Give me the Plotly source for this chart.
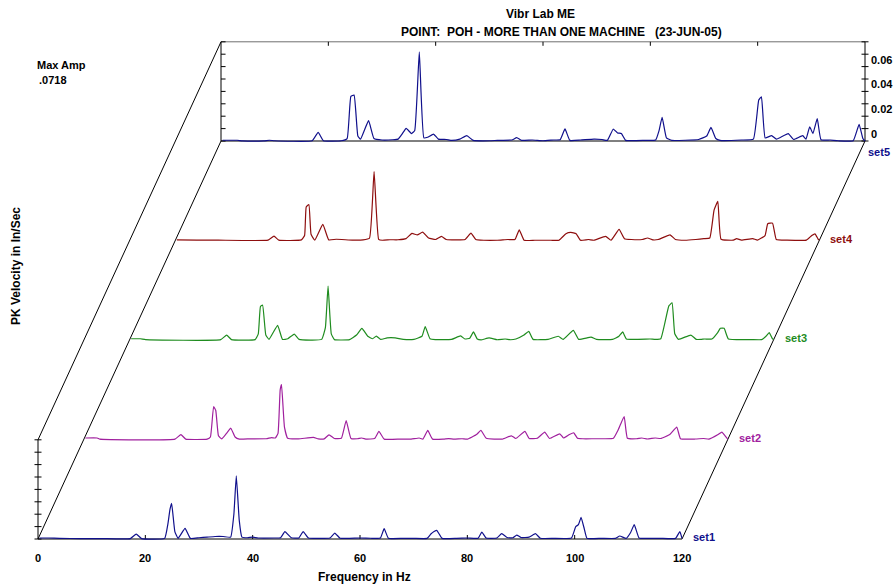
import plotly.graph_objects as go

# ---------------- data ----------------
set_names = ["set1", "set2", "set3", "set4", "set5"]
set_colors = ["#10108c", "#a0209e", "#1f8c1f", "#8e0e0e", "#10108c"]

freq1 = [0.3, 2, 4, 8, 12, 17.2, 18.3, 19.3, 23.6, 24.2, 24.6, 24.9, 25.5, 26.1, 27.4, 28.4, 30, 31.5, 33, 34.5,
         35.9, 36.5, 36.95, 37.5, 38, 39, 40, 41, 44, 45.2, 46, 47.2, 48.6, 49.4, 50.4, 52, 54.4, 55.3, 56.3, 58,
         60, 62, 63.8, 64.5, 65.3, 68, 70, 72.5, 73.2, 73.8, 74.3, 75.3, 78, 80, 82, 82.7, 83.5, 85.5, 86.4, 87.4,
         88.5, 89.2, 90, 91.5, 92.7, 93.6, 96, 99.4, 100.2, 100.7, 101.2, 101.8, 102.3, 105, 107.6, 108.4, 109.6,
         110.4, 111.1, 112, 114, 116, 118.8, 119.6, 120]
amp1 = [0.0008, 0.0008, 0.0005, 0.0003, 0.0003, 0.0003, 0.004, 0.0003, 0.0005, 0.012, 0.024, 0.0288, 0.006, 0.0005,
        0.0086, 0.0005, 0.001, 0.0015, 0.002, 0.002, 0.0015, 0.02, 0.051, 0.015, 0.0015, 0.001, 0.0015, 0.0008,
        0.0008, 0.001, 0.0059, 0.001, 0.0008, 0.006, 0.0008, 0.0005, 0.0008, 0.0048, 0.0006, 0.0005, 0.0008, 0.0006,
        0.0008, 0.0083, 0.0006, 0.0005, 0.0005, 0.0005, 0.004, 0.006, 0.007, 0.0005, 0.0005, 0.0008, 0.0006, 0.0056,
        0.0008, 0.0008, 0.0043, 0.0012, 0.001, 0.0032, 0.0012, 0.0015, 0.0043, 0.0006, 0.0005, 0.0008, 0.010, 0.0115,
        0.0175, 0.008, 0.0005, 0.0005, 0.0005, 0.0024, 0.0005, 0.005, 0.0116, 0.0008, 0.0005, 0.0005, 0.0005, 0.006,
        0.0005]

freq2 = [0.3, 2.5, 3, 17, 18.1, 19, 23, 23.6, 24.2, 24.6, 25.1, 25.7, 26.6, 27.4, 28.2, 29, 31, 34, 35, 35.7, 36.2,
         36.6, 36.85, 37.4, 38, 40, 42.8, 43.7, 44.8, 45.7, 46.7, 48, 48.9, 49.8, 51, 51.8, 52.7, 54.2, 55.0, 56, 59,
         61, 62.5, 63.2, 64.1, 65, 67, 68, 69, 70.5, 71.5, 73.2, 74.0, 75, 78, 79.7, 80.5, 82.2, 83, 84.5, 85.9, 86.8,
         88.7, 89.4, 90.5, 91.3, 92, 93, 95, 97, 98.7, 99.5, 100.0, 100.7, 101.3, 103, 104, 105, 106.5, 107.5, 109.2,
         110.5, 111.2, 114, 115.5, 116.5, 118.2, 118.9, 119.5, 120]
amp2 = [0.0012, 0.0012, 0.0003, 0.0003, 0.004, 0.0003, 0.0003, 0.002, 0.0266, 0.0234, 0.003, 0.0005, 0.005, 0.0091,
        0.002, 0.0003, 0.0005, 0.0006, 0.0015, 0.0012, 0.005, 0.040, 0.0443, 0.01, 0.001, 0.0005, 0.0017, 0.0005,
        0.0005, 0.0038, 0.0008, 0.001, 0.0153, 0.0008, 0.0006, 0.0012, 0.0003, 0.0008, 0.0065, 0.0003, 0.0003,
        0.0003, 0.0012, 0.0003, 0.0073, 0.0003, 0.0003, 0.0007, 0.0003, 0.0006, 0.0003, 0.004, 0.0073, 0.001,
        0.0003, 0.003, 0.0008, 0.0065, 0.0008, 0.001, 0.006, 0.0008, 0.0046, 0.0012, 0.004, 0.0054, 0.001, 0.0006,
        0.0006, 0.0006, 0.001, 0.007, 0.012, 0.0185, 0.001, 0.0006, 0.0012, 0.0004, 0.0012, 0.0008, 0.004, 0.01,
        0.0006, 0.0004, 0.0008, 0.0003, 0.004, 0.006, 0.003, 0.0003]

freq3 = [0.3, 2, 3, 17, 18.1, 19, 23.4, 24, 24.4, 24.8, 25.4, 26, 27.6, 28.5, 29.5, 30.7, 31.6, 35.8, 36.5, 37.0,
         37.6, 38.2, 41, 42.3, 43.3, 44.4, 45.3, 46.0, 46.8, 48, 49.5, 51, 53, 54.5, 55.1, 56, 57, 60, 61.7, 62.5,
         63.4, 64.1, 64.8, 65.5, 67, 68.5, 70, 71, 72, 73.5, 74.4, 75.2, 78, 79.9, 80.8, 82.7, 83.7, 86, 87, 90, 91.2,
         91.9, 92.6, 97, 98, 99, 100.5, 101.1, 101.6, 102.3, 104.6, 105.6, 106.5, 107.2, 108.5, 109.6, 110.1, 110.8,
         111.6, 116, 117.8, 118.6, 119.2, 119.8, 120]
amp3 = [0.001, 0.001, 0.0003, 0.0003, 0.004, 0.0003, 0.0003, 0.005, 0.027, 0.0282, 0.004, 0.0005, 0.0118, 0.0005,
        0.001, 0.0048, 0.0005, 0.0005, 0.01, 0.0435, 0.005, 0.0003, 0.0003, 0.004, 0.0094, 0.003, 0.001, 0.0032,
        0.0005, 0.0017, 0.0017, 0.0005, 0.0005, 0.003, 0.0108, 0.001, 0.0003, 0.0005, 0.0033, 0.0008, 0.0015, 0.0065,
        0.0008, 0.0001, 0.0017, 0.0002, 0.0008, 0.0002, 0.0008, 0.004, 0.007, 0.0005, 0.0005, 0.003, 0.0005, 0.0078,
        0.0005, 0.0023, 0.0005, 0.0005, 0.003, 0.0065, 0.0008, 0.0008, 0.0005, 0.001, 0.0275, 0.030, 0.005, 0.0005,
        0.004, 0.0005, 0.0005, 0.0008, 0.0008, 0.006, 0.0094, 0.0094, 0.0008, 0.0003, 0.0003, 0.003, 0.006, 0.001,
        0.0005]

freq4 = [0.3, 4, 8, 17.3, 18.4, 19.3, 23.5, 24.1, 24.4, 24.9, 25.3, 26, 27.5, 28.6, 30, 33, 35, 36.2, 37.05, 37.9,
         38.6, 40, 41.5, 43, 44.1, 45.1, 46.1, 47.2, 48.5, 49.6, 50.5, 54, 55.1, 56, 57.5, 60, 62, 63.3, 64.1, 65, 67,
         70, 71.5, 72.8, 73.7, 74.7, 75.5, 77, 78, 80.2, 81.2, 82.7, 83.7, 85, 87, 88, 89, 90, 92.2, 93.2, 95, 97,
         98.5, 99.6, 100.4, 101.1, 101.7, 104, 104.6, 105.5, 107.6, 108.5, 109.9, 110.4, 111.3, 112, 114, 117.6,
         118.6, 119.2, 119.8, 120]
amp4 = [0.0005, 0.0003, 0.0003, 0.0003, 0.0035, 0.0003, 0.0005, 0.004, 0.027, 0.029, 0.005, 0.0003, 0.013, 0.0005,
        0.001, 0.0003, 0.0005, 0.002, 0.0556, 0.001, 0.0002, 0.0006, 0.0006, 0.0015, 0.0057, 0.0045, 0.0067, 0.002,
        0.0008, 0.0033, 0.0008, 0.0008, 0.006, 0.0008, 0.0002, 0.0002, 0.0008, 0.0008, 0.0086, 0.0002, 0.0002,
        0.0002, 0.0002, 0.0055, 0.0065, 0.0055, 0.0002, 0.0008, 0.0002, 0.0033, 0.0002, 0.0089, 0.0015, 0.0008,
        0.0008, 0.002, 0.0005, 0.0008, 0.0046, 0.0008, 0.0002, 0.0008, 0.0015, 0.002, 0.0245, 0.0315, 0.001, 0.0003,
        0.0015, 0.0003, 0.0015, 0.0003, 0.004, 0.0135, 0.014, 0.0008, 0.0003, 0.0003, 0.004, 0.0054, 0.001, 0.0003]

freq5 = [0.3, 3, 4, 8, 9, 10, 17, 18.1, 19.1, 22.4, 23.5, 24.2, 24.8, 25.5, 26, 27.5, 28.5, 30, 32, 33, 33.8, 34.5,
         35.5, 36.1, 36.95, 37.8, 38.5, 39.6, 40.5, 42, 43, 44.5, 45.8, 47, 50, 51.5, 54.2, 55.1, 56, 58, 60, 62, 63.2,
         64.1, 65, 67, 69.5, 71, 72, 73.1, 73.9, 74.6, 75.4, 79, 81, 81.6, 82.2, 83, 84, 89, 90.5, 91.3, 92.2, 93, 97,
         99.2, 100.2, 100.7, 101.4, 102.6, 103.5, 105.7, 106.7, 108.4, 109.0, 109.7, 110.3, 111.1, 111.8, 113.5, 115,
         117.8, 118.9, 119.6, 120]
amp5 = [0.0006, 0.0006, 0.0001, 0.0001, 0.0006, 0.0002, 0.0002, 0.007, 0.0002, 0.0002, 0.002, 0.036, 0.037, 0.004,
        0.0015, 0.0164, 0.002, 0.0008, 0.001, 0.0015, 0.006, 0.0102, 0.006, 0.0085, 0.0718, 0.0025, 0.003, 0.0056,
        0.0015, 0.0012, 0.0005, 0.0015, 0.0043, 0.0005, 0.0002, 0.0005, 0.0008, 0.0027, 0.0005, 0.0008, 0.0002,
        0.0008, 0.001, 0.0097, 0.0005, 0.0008, 0.0015, 0.0012, 0.0005, 0.0097, 0.0065, 0.006, 0.0005, 0.0005, 0.0008,
        0.008, 0.019, 0.0025, 0.0005, 0.0012, 0.004, 0.011, 0.002, 0.0005, 0.0008, 0.0015, 0.033, 0.0357, 0.0025,
        0.0043, 0.0015, 0.006, 0.0012, 0.0043, 0.0015, 0.0115, 0.006, 0.018, 0.001, 0.0008, 0.0002, 0.0002, 0.0134,
        0.002, 0.0]

freq_tick_vals = [0, 20, 40, 60, 80, 100, 120]
freq_tick_text = ["0", "20", "40", "60", "80", "100", "120"]
amp_minor_ticks = [0, 0.01, 0.02, 0.03, 0.04, 0.05, 0.06, 0.07, 0.08]
amp_label_vals = [0, 0.02, 0.04, 0.06]
amp_label_text = ["0", "0.02", "0.04", "0.06"]
amp_top = 0.08
freq_max = 120
max_amp_text = ".0718"

# ---------------- layout geometry ----------------
W, H = 896, 585
PX_HZ = 644 / 120.0      # pixels per Hz
PX_AMP = 1240.0          # pixels per in/sec
X0_PX, Y0_PX = 38, 539
DX = 45.75 / PX_HZ       # waterfall shift per set (Hz)
DY = 99.5 / PX_AMP       # waterfall shift per set (amp)
xr = [-X0_PX / PX_HZ, (W - X0_PX) / PX_HZ]
yr = [-(H - Y0_PX) / PX_AMP, Y0_PX / PX_AMP]

FONT = "Liberation Sans, Arial, sans-serif"
fig = go.Figure()

freqs = [freq1, freq2, freq3, freq4, freq5]
amps = [amp1, amp2, amp3, amp4, amp5]

def seg(xs, ys, color="black", width=1):
    fig.add_trace(go.Scatter(x=xs, y=ys, mode="lines", line=dict(color=color, width=width),
                             hoverinfo="skip", showlegend=False))

N = 4
TX = N * DX
TY = N * DY
seg([0, freq_max], [0, 0])
seg([0, 0], [0, amp_top])
seg([0, TX], [0, TY])
seg([0, TX], [amp_top, TY + amp_top])
seg([freq_max, freq_max + TX], [0, TY])
seg([TX, freq_max + TX], [TY, TY])
seg([TX, freq_max + TX], [TY + amp_top, TY + amp_top], color="#707070")
seg([TX, TX], [TY, TY + amp_top])
seg([freq_max + TX, freq_max + TX], [TY, TY + amp_top])

hx = 3.5 / PX_HZ
vy = 4 / PX_AMP
tx, ty = [], []
for a in amp_minor_ticks:
    tx += [-hx, hx, None]; ty += [a, a, None]
    tx += [TX, TX + 1.3 * hx, None]; ty += [TY + a, TY + a, None]
    tx += [freq_max + TX - hx, freq_max + TX + hx, None]; ty += [TY + a, TY + a, None]
for f in freq_tick_vals[1:-1]:
    tx += [f, f, None]; ty += [0, vy, None]
    tx += [f + TX, f + TX, None]; ty += [TY + amp_top, TY + amp_top - vy, None]
seg(tx, ty)

for k in range(5):
    fig.add_trace(go.Scatter(
        x=[f + k * DX for f in freqs[k]],
        y=[a + k * DY for a in amps[k]],
        mode="lines", line=dict(color=set_colors[k], width=1.2, shape="spline", smoothing=0.35),
        name=set_names[k], showlegend=False, hoverinfo="skip"))

ann = []
def text(x, y, s, xref="x", yref="y", xanchor="center", yanchor="middle", color="black",
         size=11, xshift=0, yshift=0, angle=0):
    ann.append(dict(x=x, y=y, xref=xref, yref=yref, text=s, showarrow=False, xanchor=xanchor,
                    yanchor=yanchor, xshift=xshift, yshift=yshift, textangle=angle,
                    font=dict(family=FONT, size=size, color=color, weight="bold")))

for v, t in zip(freq_tick_vals, freq_tick_text):
    text(v, 0, t, yshift=-19)
for v, t in zip(amp_label_vals, amp_label_text):
    text(freq_max + TX, TY + v, t, xanchor="left", xshift=4, yshift=7)
for k in range(5):
    if k < 4:
        text(freq_max + k * DX, k * DY, set_names[k], xanchor="left", xshift=9, yshift=2,
             color=set_colors[k])
    else:
        text(freq_max + k * DX, k * DY, set_names[k], xanchor="left", xshift=1, yshift=-11,
             color=set_colors[k])

def px(xp, yp):
    return xp / W, 1 - yp / H

x, y = px(540, 14); text(x, y, "Vibr Lab ME", xref="paper", yref="paper", size=12)
x, y = px(561, 32); text(x, y, "POINT:  POH - MORE THAN ONE MACHINE   (23-JUN-05)", xref="paper", yref="paper", size=12)
x, y = px(35, 65); text(x, y, "Max Amp", xref="paper", yref="paper", xanchor="left")
x, y = px(37, 80); text(x, y, max_amp_text, xref="paper", yref="paper", xanchor="left")
x, y = px(364, 577); text(x, y, "Frequency in Hz", xref="paper", yref="paper", size=12)
x, y = px(16, 266); text(x, y, "PK Velocity in In/Sec", xref="paper", yref="paper", angle=-90, size=12)

fig.update_layout(
    width=W, height=H, margin=dict(l=0, r=0, t=0, b=0),
    paper_bgcolor="white", plot_bgcolor="white",
    xaxis=dict(range=xr, visible=False, fixedrange=True),
    yaxis=dict(range=yr, visible=False, fixedrange=True),
    annotations=ann, showlegend=False,
)
fig.write_html("out.html", config={"displayModeBar": False})
